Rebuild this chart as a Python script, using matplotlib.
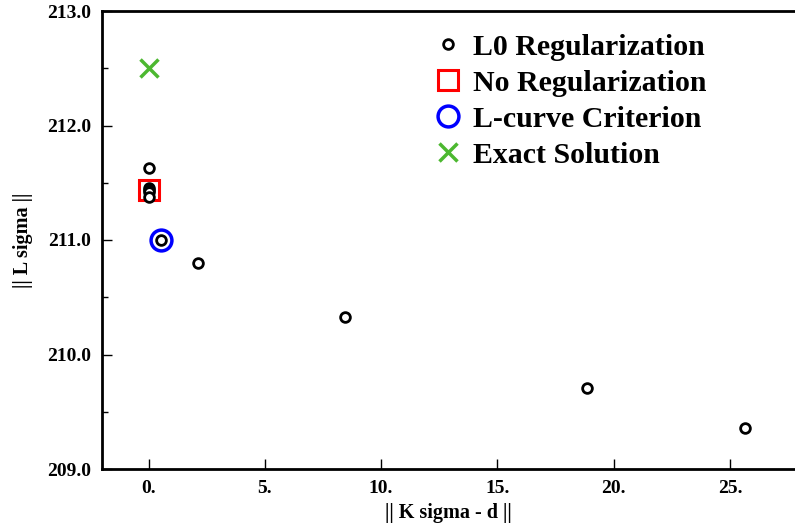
import numpy as np
import matplotlib.pyplot as plt
from matplotlib.ticker import MultipleLocator, FuncFormatter

# residual norm || K sigma - d || and solution norm || L sigma ||
l0_x = [0.0, 0.02, 0.03, 0.03, 0.04, 0.55, 2.12, 8.43, 18.87, 25.67]
l0_y = [211.63, 211.457, 211.437, 211.417, 211.374, 211.0, 210.80, 210.33, 209.71, 209.36]
noreg_x = [0.0]
noreg_y = [211.44]
lcurve_x = [0.55]
lcurve_y = [211.0]
exact_x = [0.0]
exact_y = [212.5]

plt.rcParams['font.family'] = ['Liberation Serif', 'DejaVu Serif']
plt.rcParams['font.weight'] = 'bold'

fig = plt.figure(figsize=(7.95, 5.26), dpi=100)
ax = fig.add_axes([102/795, 57/526, 1 - 102/795, 458/526])

ax.plot(noreg_x, noreg_y, 's', ms=14, mfc='none', mec='#ff0000', mew=2.2,
        label='No Regularization', zorder=2)
ax.plot(lcurve_x, lcurve_y, 'o', ms=15, mfc='none', mec='#0000ff', mew=2.5,
        label='L-curve Criterion', zorder=2)
ax.plot(exact_x, exact_y, 'x', ms=13, mec='#4cb830', mew=2.5,
        label='Exact Solution', zorder=2)
ax.plot(l0_x, l0_y, 'o', ms=7, mfc='white', mec='black', mew=2,
        label='L0 Regularization', zorder=3)

ax.set_xlim(-2, 27.8)
ax.set_ylim(209, 213)
ax.xaxis.set_major_locator(MultipleLocator(5))
ax.yaxis.set_major_locator(MultipleLocator(1))
ax.yaxis.set_minor_locator(MultipleLocator(0.5))
ax.xaxis.set_major_formatter(FuncFormatter(lambda v, p: '%d.' % round(v)))
ax.yaxis.set_major_formatter(FuncFormatter(lambda v, p: '%.1f' % v))

ax.tick_params(direction='in', labelsize=14, width=1, length=7, pad=8)
ax.tick_params(axis='y', which='minor', direction='in', length=4, width=1)
ax.spines['right'].set_visible(False)
for s in ['left', 'bottom', 'top']:
    ax.spines[s].set_linewidth(2)

ax.set_xlabel('|| K sigma - d ||', fontsize=14.5, fontweight='bold', labelpad=4)
ax.set_ylabel('|| L sigma ||', fontsize=14.5, fontweight='bold', labelpad=10)

h, l = ax.get_legend_handles_labels()
order = [3, 0, 1, 2]
ax.legend([h[i] for i in order], [l[i] for i in order], loc='upper left',
          bbox_to_anchor=(415/795, 1 - 19/526), bbox_transform=fig.transFigure,
          frameon=False, fontsize=21.5, handlelength=1.2,
          handletextpad=0.25, labelspacing=0.3, borderpad=0)

fig.savefig('out.png', dpi=100)
